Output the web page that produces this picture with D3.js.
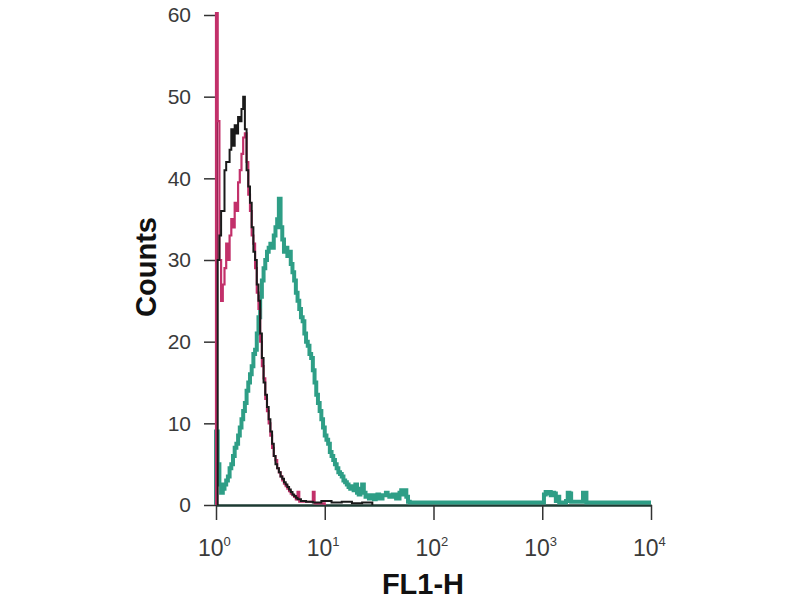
<!DOCTYPE html>
<html>
<head>
<meta charset="utf-8">
<script src="https://cdn.jsdelivr.net/npm/d3@7"></script>
<style>
  body { margin: 0; background: #fff; }
  svg { display: block; }
</style>
</head>
<body>
<div id="chart"></div>
<script>
// histogram channels: 64 channels per decade, FL1 = 10^(ch/64)
var blackCh = [1,2,3,5,6,8,9,10,11,12,13,14,15,16,17,18,19,20,21,22,23,24,25,26,27,28,29,30,31,32,33,34,35,36,37,38,39,40,41,42,43,44,45,46,47,48,50,53,57,62,68,74,80,86,92];
var blackCounts = [30,33,36,41,42,43.5,46,44,46.5,45.5,47.5,47,48.5,50,46,41,39,37,34,31,30,27,25,21,18,15,13.5,12,10.5,9,7.5,6,5,4.5,4,3.5,3.2,2.8,2.5,2.2,1.9,1.6,1.3,1.1,0.9,0.7,0.5,0.4,0.3,0.5,0.3,0.4,0.2,0.3,0];

var magentaCh = [0,1,2,3,4,5,6,7,8,9,10,11,12,13,14,15,16,17,18,19,20,21,22,23,24,25,26,27,28,29,30,31,32,33,34,35,36,37,38,39,40,41,42,43,44,45,46,47,48,49,57,58,64];
var magentaCounts = [80,47,30,25,27,29,32,30,33,35,34,37,36,39.5,41,43,45,45.5,42,38,36,33,32,29,26,24,20,17,15.5,13,11.5,10,8.5,7,6,5.5,4.5,4,3.5,3,2.6,2.3,2,1.7,1.4,1.2,1,0.7,1.6,0.4,1.6,0.2,0];

var tealCh = [0,1,2,3,4,5,6,7,8,9,10,11,12,13,14,15,16,17,18,19,20,21,22,23,24,25,26,27,28,29,30,31,32,33,34,35,36,37,38,39,40,41,42,43,44,45,46,47,48,49,50,51,52,53,54,55,56,57,58,59,60,61,62,63,64,65,66,67,68,69,70,71,72,73,74,75,76,77,78,79,80,81,82,83,84,85,86,87,88,89,90,91,92,93,94,95,96,98,100,101,102,104,106,108,109,110,111,112,113,114,193,194,195,196,197,198,199,200,201,202,206,207,208,209,215,216,217,218,256];
var tealCounts = [9,5,2.5,1.5,2,2.5,3,3.5,4.5,5,6,7,7.5,8.5,9.5,10.5,11.5,12.5,14,15,16,17,18.5,19,21,23,25.5,27.5,29,30,31,31.5,32,31.5,33,34,35,37.5,34,32.5,31,31.5,30.5,31,29.5,28.5,27.5,26,25,24,23,22.5,21,20,19.5,18.5,18,16.5,15,13.5,12.5,11.5,10.5,9.5,8.5,8,7.5,6.5,6,5.5,5,4.5,4,3.8,3.5,3,2.8,2.5,2.2,2,2.3,1.8,2.5,1.5,1.3,2,2.5,1.5,1,1.2,0.8,1,1.2,0.7,1,1.3,0.8,1.2,1.5,1.2,1,1.3,0.8,1.5,1.8,1.3,1.8,1,0.4,0.3,1.3,1.6,1.4,1.6,1.2,1.5,1.4,0.5,1,0.3,0.5,1.5,1.4,0.4,0.4,1.5,1.5,0.3,0.3];

var xTicks = [1, 10, 100, 1000, 10000];
var xTickExp = ["0", "1", "2", "3", "4"];
var yTicks = [0, 10, 20, 30, 40, 50, 60];

var w = 800, h = 600;
var plotLeft = 216, plotRight = 651, plotTop = 15, plotBottom = 505;

var svg = d3.select("#chart").append("svg")
    .attr("width", w)
    .attr("height", h);

var x = d3.scaleLog().domain([1, 10000]).range([plotLeft, plotRight]);
var y = d3.scaleLinear().domain([0, 60]).range([plotBottom, plotTop]);

svg.append("clipPath").attr("id", "plot")
  .append("rect")
    .attr("x", plotLeft - 3).attr("y", plotTop - 3)
    .attr("width", plotRight - plotLeft + 6).attr("height", plotBottom - plotTop + 6);

// axes
var yAxis = svg.append("g")
    .attr("transform", "translate(" + plotLeft + ",0)")
    .call(d3.axisLeft(y).tickValues(yTicks).tickSize(12).tickSizeOuter(0).tickPadding(13));
yAxis.select(".domain").attr("stroke", "#8e2852").attr("stroke-width", 3);
yAxis.selectAll(".tick line").attr("stroke", "#333").attr("stroke-width", 1.5);
yAxis.selectAll(".tick text")
    .attr("font-family", "'Liberation Sans Narrow', 'Liberation Sans', Arial, sans-serif")
    .attr("font-size", 21)
    .attr("fill", "#3a3a3a");

var xAxis = svg.append("g")
    .attr("transform", "translate(0," + plotBottom + ")")
    .call(d3.axisBottom(x).tickValues(xTicks).tickSize(15).tickSizeOuter(0).tickFormat(""));
xAxis.select(".domain").attr("stroke", "#1d3a32").attr("stroke-width", 2.5);
xAxis.selectAll(".tick line").attr("stroke", "#333").attr("stroke-width", 1.5);

var xLab = svg.append("g").selectAll("text")
  .data(xTicks)
  .enter().append("text")
    .attr("x", function(d) { return x(d) - 18; })
    .attr("y", 556)
    .attr("font-family", "'Liberation Sans Narrow', 'Liberation Sans', Arial, sans-serif")
    .attr("font-size", 23)
    .attr("fill", "#3a3a3a");
xLab.append("tspan").text("10");
xLab.append("tspan")
    .attr("font-size", 13)
    .attr("dy", -10)
    .text(function(d, i) { return xTickExp[i]; });

// histograms
function toPoints(ch, counts) {
  var pts = [[Math.pow(10, ch[0] / 64), 0]];
  for (var i = 0; i < ch.length; i++) {
    pts.push([Math.pow(10, ch[i] / 64), counts[i]]);
  }
  return pts;
}

var line = d3.line()
    .x(function(d) { return x(d[0]); })
    .y(function(d) { return y(d[1]); })
    .curve(d3.curveStepAfter);

var plot = svg.append("g").attr("clip-path", "url(#plot)");

plot.append("path")
    .attr("d", line(toPoints(tealCh, tealCounts)))
    .attr("fill", "none")
    .attr("stroke", "#2e9e86")
    .attr("stroke-width", 4);

plot.append("path")
    .attr("d", line(toPoints(magentaCh, magentaCounts)))
    .attr("fill", "none")
    .attr("stroke", "#c2306a")
    .attr("stroke-width", 2.2);

plot.append("path")
    .attr("d", line(toPoints(blackCh, blackCounts)))
    .attr("fill", "none")
    .attr("stroke", "#1a1a1a")
    .attr("stroke-width", 2);

// titles
svg.append("text")
    .attr("transform", "translate(156,267) rotate(-90)")
    .attr("text-anchor", "middle")
    .attr("font-family", "'Liberation Sans', Arial, sans-serif")
    .attr("font-weight", "bold")
    .attr("font-size", 29)
    .attr("fill", "#111")
    .text("Counts");

svg.append("text")
    .attr("x", 423)
    .attr("y", 594)
    .attr("text-anchor", "middle")
    .attr("font-family", "'Liberation Sans', Arial, sans-serif")
    .attr("font-weight", "bold")
    .attr("font-size", 29)
    .attr("fill", "#111")
    .text("FL1-H");
</script>
</body>
</html>
